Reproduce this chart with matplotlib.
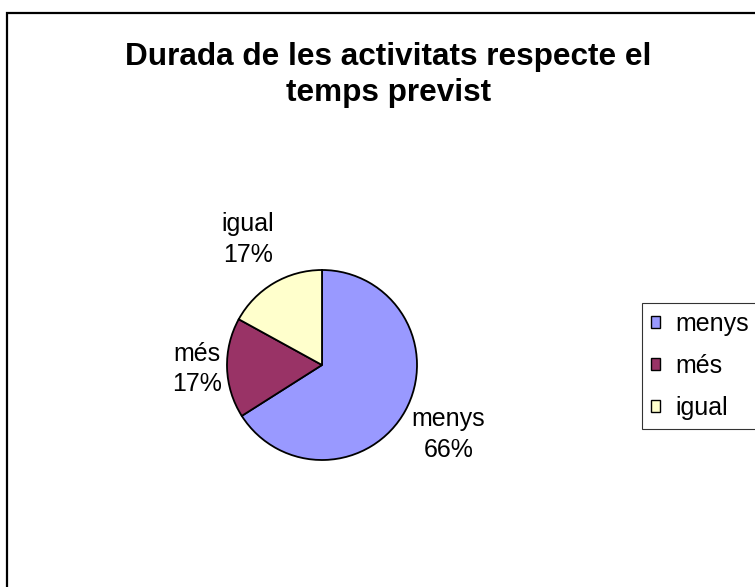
import matplotlib
matplotlib.use("Agg")
import matplotlib.pyplot as plt
from matplotlib.patches import Rectangle
import numpy as np

title = "Durada de les activitats respecte el\ntemps previst"
categories = ["menys", "més", "igual"]
values = [66, 17, 17]
colors = ["#9999FF", "#993366", "#FFFFCC"]

plt.rcParams['font.family'] = ['Liberation Sans', 'DejaVu Sans']

W, H = 755, 587
fig = plt.figure(figsize=(W / 100, H / 100), dpi=100)
fig.patch.set_facecolor('white')

# outer chart frame (extends past right/bottom edges)
fig.patches.append(Rectangle((7 / W, -0.2), 1.5, (1 - 13 / H) + 0.2,
                             transform=fig.transFigure, fill=False,
                             edgecolor='black', linewidth=1.6))

cx, cy, R = 322, 365, 95
ax = fig.add_axes([(cx - R) / W, (H - cy - R) / H, 2 * R / W, 2 * R / H])
wedges, _ = ax.pie(values, colors=colors, startangle=90, counterclock=False,
                   wedgeprops=dict(edgecolor='black', linewidth=1.3))
ax.set_xlim(-1, 1)
ax.set_ylim(-1, 1)
ax.set_aspect('equal')
ax.axis('off')

label_dist = [1.52, 1.32, 1.53]
total = sum(values)
for w, cat, v, d in zip(wedges, categories, values, label_dist):
    th = np.deg2rad((w.theta1 + w.theta2) / 2)
    ax.text(d * np.cos(th), d * np.sin(th), f"{cat}\n{round(100 * v / total)}%",
            ha='center', va='center', fontsize=18, linespacing=1.36,
            clip_on=False)

fig.text(388.5 / W, 1 - 42 / H, title, ha='center', va='top',
         fontsize=22.7, fontweight='bold', linespacing=1.25)

leg = fig.legend(wedges, categories, loc='upper left',
                 bbox_to_anchor=(642 / W, 1 - 303 / H), borderaxespad=0,
                 fontsize=18, frameon=True, fancybox=False,
                 edgecolor='black', handlelength=0.35, handleheight=0.35,
                 handletextpad=0.65, labelspacing=0.72, borderpad=0.35)
leg.get_frame().set_linewidth(0.8)
for h in leg.legend_handles:
    h.set_edgecolor('black')
    h.set_linewidth(1.0)

fig.savefig("out.png", dpi=100)
